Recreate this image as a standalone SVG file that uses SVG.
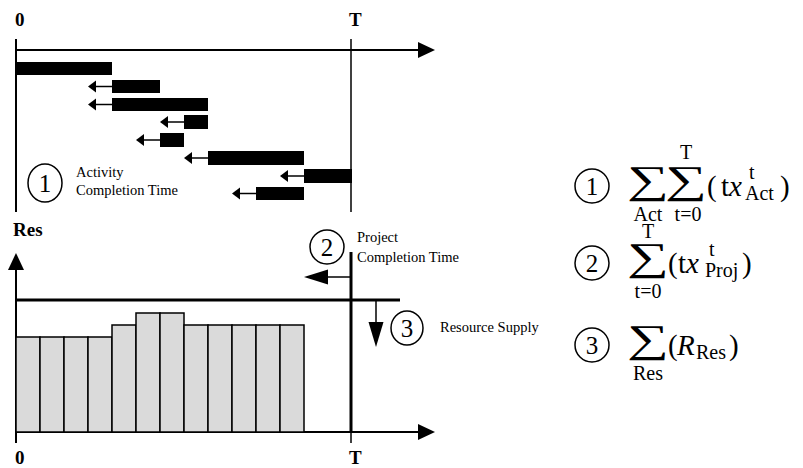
<svg xmlns="http://www.w3.org/2000/svg" width="803" height="468" viewBox="0 0 803 468">
  <style>
    .lbl { font-family: "Liberation Serif", "DejaVu Serif", serif; fill: #000; }
    .bold { font-weight: bold; font-size: 19px; }
    .note { font-size: 14.5px; }
    .num { font-size: 25px; text-anchor: middle; }
    .sum { font-size: 46px; text-anchor: middle; }
    .lim { font-size: 20px; text-anchor: middle; }
    .big { font-size: 29px; }
    .sub { font-size: 20px; }
    .it { font-style: italic; }
    .ring { fill: none; stroke: #000; stroke-width: 1.5; }
    .ax { stroke: #000; stroke-width: 2; fill: none; }
    .thin { stroke: #000; stroke-width: 1.5; fill: none; }
    .heavy { stroke: #000; stroke-width: 3; fill: none; }
    .bar { fill: #000; }
    .hist { fill: #dadada; stroke: #000; stroke-width: 1.5; }
    .head { fill: #000; }
  </style>

  <!-- Gantt chart: activities over time 0..T -->
  <g id="gantt">
    <text class="lbl bold" x="15" y="26">0</text>
    <text class="lbl bold" x="349" y="26">T</text>
    <line class="ax" x1="16" y1="39" x2="16" y2="212"/>
    <line class="thin" x1="351" y1="39" x2="351" y2="212"/>
    <line class="ax" x1="16" y1="50" x2="420" y2="50"/>
    <polygon class="head" points="418,42 435,50 418,58"/>
  </g>

  <g id="activities">
    <rect class="bar" x="16" y="62" width="96" height="13"/>
    <rect class="bar" x="112" y="80" width="48" height="13"/>
    <rect class="bar" x="112" y="98" width="96" height="13"/>
    <rect class="bar" x="184" y="115" width="24" height="14"/>
    <rect class="bar" x="160" y="133" width="24" height="14"/>
    <rect class="bar" x="208" y="151" width="96" height="14"/>
    <rect class="bar" x="304" y="169" width="48" height="14"/>
    <rect class="bar" x="256" y="187" width="48" height="13"/>
  </g>

  <!-- shift arrows pointing to earlier start -->
  <g id="shift-arrows">
    <line class="thin" x1="112" y1="86.5" x2="94" y2="86.5"/>
    <polygon class="head" points="88,86.5 96,80.5 96,92.5"/>
    <line class="thin" x1="112" y1="104.5" x2="94" y2="104.5"/>
    <polygon class="head" points="88,104.5 96,98.5 96,110.5"/>
    <line class="thin" x1="184" y1="122" x2="166" y2="122"/>
    <polygon class="head" points="160,122 168,116 168,128"/>
    <line class="thin" x1="160" y1="140" x2="142" y2="140"/>
    <polygon class="head" points="136,140 144,134 144,146"/>
    <line class="thin" x1="208" y1="158" x2="190" y2="158"/>
    <polygon class="head" points="184,158 192,152 192,164"/>
    <line class="thin" x1="304" y1="176" x2="286" y2="176"/>
    <polygon class="head" points="280,176 288,170 288,182"/>
    <line class="thin" x1="256" y1="193.5" x2="238" y2="193.5"/>
    <polygon class="head" points="232,193.5 240,187.5 240,199.5"/>
  </g>

  <g id="note-activity">
    <ellipse class="ring" cx="45" cy="183" rx="17" ry="19"/>
    <text class="lbl num" x="45" y="192">1</text>
    <text class="lbl note" x="76" y="177">Activity</text>
    <text class="lbl note" x="76" y="195">Completion Time</text>
  </g>

  <!-- Resource profile -->
  <g id="resource-chart">
    <text class="lbl bold" x="13" y="236">Res</text>
    <line class="ax" x1="16" y1="268" x2="16" y2="443"/>
    <polygon class="head" points="8,270 16,253 24,270"/>
    <line class="ax" x1="16" y1="432" x2="420" y2="432"/>
    <polygon class="head" points="418,424 435,432 418,440"/>
    <text class="lbl bold" x="15" y="464">0</text>
    <text class="lbl bold" x="349" y="464">T</text>
  </g>

  <g id="histogram">
    <rect class="hist" x="16" y="337" width="24" height="95"/>
    <rect class="hist" x="40" y="337" width="24" height="95"/>
    <rect class="hist" x="64" y="337" width="24" height="95"/>
    <rect class="hist" x="88" y="337" width="24" height="95"/>
    <rect class="hist" x="112" y="325" width="24" height="107"/>
    <rect class="hist" x="136" y="313" width="24" height="119"/>
    <rect class="hist" x="160" y="313" width="24" height="119"/>
    <rect class="hist" x="184" y="325" width="24" height="107"/>
    <rect class="hist" x="208" y="325" width="24" height="107"/>
    <rect class="hist" x="232" y="325" width="24" height="107"/>
    <rect class="hist" x="256" y="325" width="24" height="107"/>
    <rect class="hist" x="280" y="325" width="24" height="107"/>
  </g>

  <g id="project-end">
    <line class="heavy" x1="351" y1="252" x2="351" y2="432"/>
    <line class="thin" x1="351" y1="432" x2="351" y2="443"/>
    <line class="thin" x1="351" y1="277" x2="322" y2="277"/>
    <polygon class="head" points="304,277 328,269.5 328,284.5"/>
    <circle class="ring" cx="327" cy="247" r="17"/>
    <text class="lbl num" x="327" y="256">2</text>
    <text class="lbl note" x="357" y="242">Project</text>
    <text class="lbl note" x="357" y="262">Completion Time</text>
  </g>

  <g id="resource-supply">
    <line class="heavy" x1="16" y1="300" x2="400" y2="300"/>
    <line class="thin" x1="376" y1="300" x2="376" y2="324"/>
    <polygon class="head" points="368.5,322 376,347 383.5,322"/>
    <ellipse class="ring" cx="407" cy="328" rx="16" ry="17"/>
    <text class="lbl num" x="407" y="337">3</text>
    <text class="lbl note" x="440" y="332">Resource Supply</text>
  </g>

  <!-- Objective terms -->
  <g id="objective-1">
    <circle class="ring" cx="592" cy="186" r="17"/>
    <text class="lbl num" x="592" y="195">1</text>
    <text class="lbl sum" transform="translate(648,193) scale(1.28,0.85)">∑</text>
    <text class="lbl sum" transform="translate(686,193) scale(1.28,0.85)">∑</text>
    <text class="lbl lim" x="686" y="159">T</text>
    <text class="lbl lim" x="648" y="221">Act</text>
    <text class="lbl lim" x="688" y="221">t=0</text>
    <text class="lbl big" x="707" y="196">(</text>
    <text class="lbl big" x="721" y="196">t<tspan class="it">x</tspan></text>
    <text class="lbl sub" x="749" y="179">t</text>
    <text class="lbl sub" x="745" y="200">Act</text>
    <text class="lbl big" x="780" y="196">)</text>
  </g>

  <g id="objective-2">
    <circle class="ring" cx="592" cy="263" r="17"/>
    <text class="lbl num" x="592" y="272">2</text>
    <text class="lbl lim" x="648" y="238">T</text>
    <text class="lbl sum" transform="translate(648,270) scale(1.28,0.85)">∑</text>
    <text class="lbl lim" x="648" y="298">t=0</text>
    <text class="lbl big" x="668" y="273">(</text>
    <text class="lbl big" x="678" y="273">t<tspan class="it">x</tspan></text>
    <text class="lbl sub" x="709" y="256">t</text>
    <text class="lbl sub" x="705" y="277">Proj</text>
    <text class="lbl big" x="742" y="273">)</text>
  </g>

  <g id="objective-3">
    <circle class="ring" cx="592" cy="345" r="17"/>
    <text class="lbl num" x="592" y="354">3</text>
    <text class="lbl sum" transform="translate(648,352) scale(1.28,0.85)">∑</text>
    <text class="lbl lim" x="648" y="380">Res</text>
    <text class="lbl big" x="668" y="355">(</text>
    <text class="lbl big it" x="677" y="355">R</text>
    <text class="lbl sub" x="696" y="359">Res</text>
    <text class="lbl big" x="729" y="355">)</text>
  </g>
</svg>
